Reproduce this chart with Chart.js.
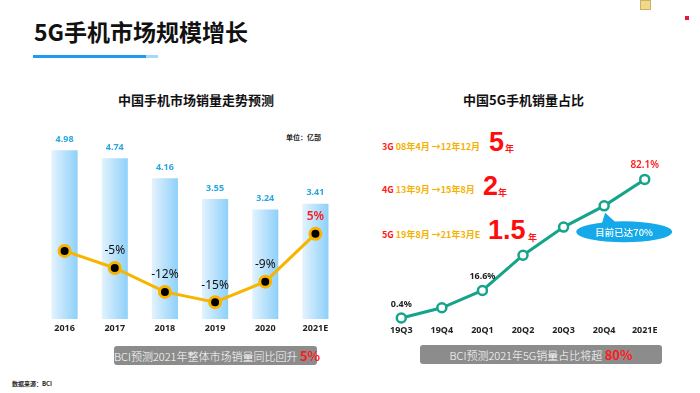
<!DOCTYPE html>
<html>
<head>
<meta charset="utf-8">
<script src="https://cdn.jsdelivr.net/npm/chart.js@4.4.0/dist/chart.umd.min.js"></script>
<style>
  html, body { margin: 0; padding: 0; background: #fff; }
  body { width: 700px; height: 393px; position: relative; overflow: hidden;
         font-family: "Noto Sans CJK SC", "Noto Sans", sans-serif; }
  .abs { position: absolute; white-space: nowrap; }
  #title { left: 34px; top: 16px; font-size: 23px; font-weight: 700; color: #111; line-height: 30px; }
  #rule { left: 33px; top: 55px; width: 113px; height: 3px; background: #1e9bf0; }
  #rule2 { left: 146px; top: 55px; width: 12px; height: 3px; background: #a8d8f7; }
  .sub { font-size: 13px; font-weight: 700; color: #111; line-height: 18px; }
  #unit { left: 286px; top: 132px; font-size: 7px; font-weight: 700; color: #222; }
  .box { background: #8c8c8c; border-radius: 3px; color: #fff; font-size: 11px;
         line-height: 19px; height: 19px; text-align: center; font-weight: 300; }
  .box b { color: #ff1a1a; font-size: 13px; font-weight: 700; }
  #src { left: 12px; top: 379px; font-size: 6px; font-weight: 700; color: #222; }
  .gen { font-size: 9px; font-weight: 700; color: #f5b100; line-height: 12px; }
  .gen .g { color: #ff1a1a; }
  .big { font-size: 27px; font-weight: 700; color: #ff0d0d; line-height: 30px; font-family: "Liberation Sans", "Noto Sans", sans-serif; }
  .yr { font-size: 9px; font-weight: 700; color: #ff1a1a; }
  canvas { position: absolute; }
</style>
</head>
<body>
<div class="abs" id="title">5G手机市场规模增长</div>
<div class="abs" id="rule"></div>
<div class="abs" id="rule2"></div>
<div class="abs" style="left:640px;top:0px;width:9px;height:8px;background:#f2d98a;border:1px solid #c9b26a;"></div>
<div class="abs" style="left:685px;top:16px;width:4px;height:4px;background:#e8163c;"></div>

<div class="abs sub" style="left:118px;top:91px;">中国手机市场销量走势预测</div>
<div class="abs sub" style="left:463px;top:91px;">中国5G手机销量占比</div>
<div class="abs" id="unit">单位：亿部</div>

<div class="abs gen" style="left:382px;top:141px;"><span class="g">3G</span> 08年4月 →12年12月</div>
<div class="abs big" style="left:489px;top:127px;">5</div>
<div class="abs yr" style="left:505px;top:142px;">年</div>
<div class="abs gen" style="left:382px;top:184px;"><span class="g">4G</span> 13年9月 →15年8月</div>
<div class="abs big" style="left:483px;top:171px;">2</div>
<div class="abs yr" style="left:498px;top:186px;">年</div>
<div class="abs gen" style="left:382px;top:229px;"><span class="g">5G</span> 19年8月 →21年3月E</div>
<div class="abs big" style="left:488px;top:215px;">1.5</div>
<div class="abs yr" style="left:528px;top:231px;">年</div>

<canvas id="left" width="318" height="229" style="left:31px;top:110px;width:318px;height:229px;"></canvas>
<canvas id="right" width="298" height="211" style="left:374px;top:130px;width:298px;height:211px;"></canvas>

<div class="abs box" style="left:114px;top:346px;width:203px;">BCI预测2021年整体市场销量同比回升 <b>5%</b></div>
<div class="abs box" style="left:420px;top:345px;width:242px;">BCI预测2021年5G销量占比将超 <b>80%</b></div>
<div class="abs" id="src">数据来源：BCI</div>

<script>
// left chart: shipments (亿部) and YoY growth (%)
const years = ['2016', '2017', '2018', '2019', '2020', '2021E'];
const sales = [4.98, 4.74, 4.16, 3.55, 3.24, 3.41];
const growth = [0, -5, -12, -15, -9, 5];
const growthLabels = ['', '-5%', '-12%', '-15%', '-9%', '5%'];

// right chart: 5G share of phone sales (%)
const quarters = ['19Q3', '19Q4', '20Q1', '20Q2', '20Q3', '20Q4', '2021E'];
const share = [0.4, 6.4, 16.6, 37.4, 54, 66.5, 82.1];
const shareLabels = ['0.4%', '', '16.6%', '', '', '', '82.1%'];

const tickFont = { family: '"Noto Sans", sans-serif', size: 9, weight: 'bold' };

const leftLabels = {
  id: 'leftLabels',
  afterDatasetsDraw(chart) {
    const ctx = chart.ctx;
    ctx.save();
    ctx.textAlign = 'center';
    ctx.textBaseline = 'middle';
    ctx.font = 'bold 9px "Noto Sans", sans-serif';
    ctx.fillStyle = '#2aa6e0';
    chart.getDatasetMeta(0).data.forEach((b, i) => {
      ctx.fillText(sales[i].toFixed(2), b.x, b.y - 10);
    });
    chart.getDatasetMeta(1).data.forEach((p, i) => {
      if (!growthLabels[i]) return;
      const up = growth[i] > 0;
      ctx.font = (up ? '600 ' : '') + '12px "Noto Sans", sans-serif';
      ctx.fillStyle = up ? '#ff1a1a' : '#111';
      ctx.fillText(growthLabels[i], p.x, p.y - 17);
    });
    ctx.restore();
  }
};

const leftCtx = document.getElementById('left').getContext('2d');
// horizontal gradient per bar, light on the left, deeper blue on the right
function barFill(context) {
  const chart = context.chart;
  const xs = chart.scales && chart.scales.x;
  if (!xs || context.dataIndex === undefined || !chart.chartArea) return '#a9dbfa';
  const cx = xs.getPixelForValue(context.dataIndex);
  const half = (chart.chartArea.width / years.length) * 0.56 / 2;
  const g = leftCtx.createLinearGradient(cx - half, 0, cx + half, 0);
  g.addColorStop(0, '#e6f4fe');
  g.addColorStop(1, '#8bcff9');
  return g;
}

new Chart(leftCtx, {
  type: 'bar',
  data: {
    labels: years,
    datasets: [{
      data: sales,
      backgroundColor: barFill,
      borderColor: 'rgba(255,255,255,0.8)',
      borderWidth: 1,
      categoryPercentage: 1,
      barPercentage: 0.56,
      order: 2
    }, {
      type: 'line',
      data: growth,
      yAxisID: 'y1',
      borderColor: '#f7b500',
      borderWidth: 3,
      pointRadius: 5.5,
      pointBorderWidth: 3,
      pointBackgroundColor: '#000',
      pointBorderColor: '#f7b500',
      tension: 0,
      order: 1
    }]
  },
  options: {
    responsive: false,
    animation: false,
    layout: { padding: { top: 18, bottom: 1, left: 0, right: 0 } },
    plugins: { legend: { display: false }, tooltip: { enabled: false } },
    scales: {
      x: { grid: { display: false, drawTicks: false }, border: { display: false },
           ticks: { font: tickFont, color: '#222', padding: 4 } },
      y: { display: false, min: 0, max: 5.6 },
      y1: { display: false, min: -20, max: 36 }
    }
  },
  plugins: [leftLabels]
});

const rightLabels = {
  id: 'rightLabels',
  afterDraw(chart) {
    const ctx = chart.ctx;
    const pts = chart.getDatasetMeta(0).data;
    ctx.save();
    ctx.textAlign = 'center';
    ctx.textBaseline = 'middle';
    pts.forEach((p, i) => {
      if (!shareLabels[i]) return;
      const last = i === pts.length - 1;
      ctx.font = last ? '600 10px "Noto Sans", sans-serif' : 'bold 9px "Noto Sans", sans-serif';
      ctx.fillStyle = last ? '#ff1a1a' : '#222';
      ctx.fillText(shareLabels[i], p.x, p.y - 14);
    });
    // callout for 20Q4
    const p = pts[5];
    const cx = p.x + 20, cy = p.y + 26;
    ctx.fillStyle = '#16a9ea';
    ctx.beginPath();
    ctx.moveTo(p.x + 1, p.y + 7);
    ctx.lineTo(p.x - 3, cy - 6);
    ctx.lineTo(p.x + 13, cy - 8);
    ctx.closePath();
    ctx.fill();
    ctx.beginPath();
    ctx.ellipse(cx, cy, 48, 10.5, 0, 0, Math.PI * 2);
    ctx.fill();
    ctx.fillStyle = '#fff';
    ctx.font = '500 9.5px "Noto Sans CJK SC", sans-serif';
    ctx.fillText('目前已达70%', cx, cy + 0.5);
    ctx.restore();
  }
};

new Chart(document.getElementById('right').getContext('2d'), {
  type: 'line',
  data: {
    labels: quarters,
    datasets: [{
      data: share,
      borderColor: '#14a38b',
      borderWidth: 3,
      pointRadius: 4.5,
      pointBorderWidth: 2.5,
      pointBackgroundColor: '#fff',
      pointBorderColor: '#14a38b',
      tension: 0,
      clip: false
    }]
  },
  options: {
    responsive: false,
    animation: false,
    layout: { padding: { top: 36, bottom: 1, left: 0, right: 0 } },
    plugins: { legend: { display: false }, tooltip: { enabled: false } },
    scales: {
      x: { offset: true, grid: { display: false, drawTicks: false }, border: { display: false },
           ticks: { font: tickFont, color: '#222', padding: 4 } },
      y: { display: false, min: -1.5, max: 90 }
    }
  },
  plugins: [rightLabels]
});
</script>
</body>
</html>
